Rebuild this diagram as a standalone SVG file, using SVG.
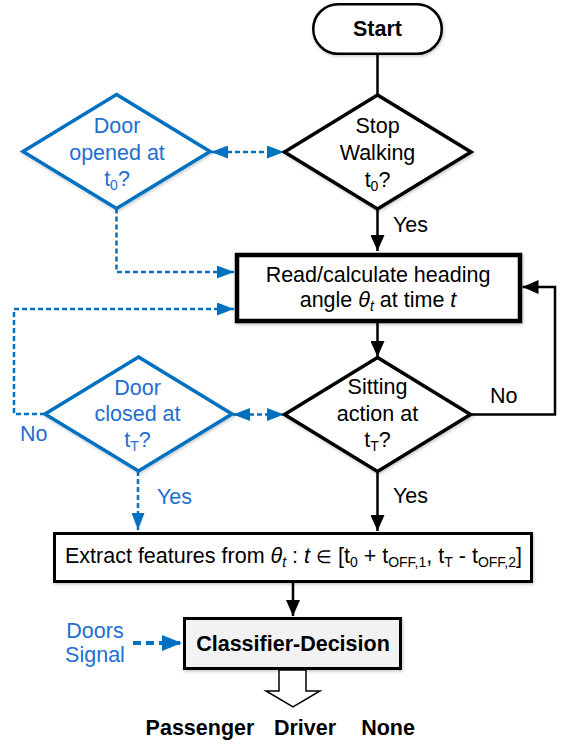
<svg xmlns="http://www.w3.org/2000/svg" width="566" height="745" viewBox="0 0 566 745">
  <style>
    text { font-family: "Liberation Sans", Arial, sans-serif; font-size: 21.5px; fill: #000; }
    .b { font-weight: bold; }
    .m { text-anchor: middle; }
    .blue { fill: #1e6fd0; }
    .sub { font-size: 14px; }
    .it { font-style: italic; }
    .sym { font-size: 18px; }
    .node { fill: #fff; stroke: #000; filter: url(#shadow); }
    .bnode { fill: #fff; stroke: #0070c0; stroke-width: 3.5; filter: url(#shadow); }
    .wire { fill: none; stroke: #000; stroke-width: 2.5; }
    .dash { fill: none; stroke: #0070c0; stroke-width: 2.5; stroke-dasharray: 5 3; }
  </style>
  <defs>
    <filter id="shadow" x="-10%" y="-10%" width="120%" height="125%">
      <feDropShadow dx="1" dy="1.5" stdDeviation="1.5" flood-color="#000" flood-opacity="0.22"/>
    </filter>
    <marker id="ah" markerUnits="userSpaceOnUse" markerWidth="16" markerHeight="14" refX="16" refY="7" orient="auto-start-reverse">
      <path d="M0,0 L16,7 L0,14 z" fill="#000"/>
    </marker>
    <marker id="bh" markerUnits="userSpaceOnUse" markerWidth="17" markerHeight="13" refX="17" refY="6.5" orient="auto-start-reverse">
      <path d="M0,0 L17,6.5 L0,13 z" fill="#0070c0"/>
    </marker>
    <marker id="bh2" markerUnits="userSpaceOnUse" markerWidth="20" markerHeight="16" refX="20" refY="8" orient="auto">
      <path d="M0,0 L20,8 L0,16 z" fill="#0070c0"/>
    </marker>
  </defs>

  <!-- connectors -->
  <g id="connectors">
    <line class="wire" x1="377.5" y1="55" x2="377.5" y2="95"/>
    <line class="wire" x1="377.5" y1="209" x2="377.5" y2="251" marker-end="url(#ah)"/>
    <line class="wire" x1="377.5" y1="323" x2="377.5" y2="357" marker-end="url(#ah)"/>
    <polyline class="wire" points="470.5,414.5 555,414.5 555,287 522.5,287" marker-end="url(#ah)"/>
    <line class="wire" x1="377.5" y1="471.5" x2="377.5" y2="531" marker-end="url(#ah)"/>
    <line class="wire" x1="293" y1="583" x2="293" y2="616" marker-end="url(#ah)"/>

    <line class="dash" x1="211" y1="152" x2="284" y2="152" marker-start="url(#bh)" marker-end="url(#bh)"/>
    <line class="dash" x1="233" y1="414.5" x2="284" y2="414.5" marker-start="url(#bh)" marker-end="url(#bh)"/>
    <polyline class="dash" points="116.5,208.5 116.5,272 234,272" marker-end="url(#bh)"/>
    <polyline class="dash" points="45,414 14,414 14,309 234,309" marker-end="url(#bh)"/>
    <line class="dash" x1="138" y1="471" x2="138" y2="530" marker-end="url(#bh)"/>
    <line fill="none" stroke="#0070c0" stroke-width="4" stroke-dasharray="8 5" x1="133" y1="643" x2="182" y2="643" marker-end="url(#bh2)"/>

    <text x="393" y="232">Yes</text>
    <text x="490" y="403">No</text>
    <text x="393" y="503">Yes</text>
    <text class="blue" x="20" y="441">No</text>
    <text class="blue" x="157" y="504">Yes</text>
  </g>

  <g id="start">
    <rect class="node" x="313.25" y="4.25" width="128.5" height="49.5" rx="24.75" stroke-width="2.5"/>
    <text class="b m" x="377.5" y="36">Start</text>
  </g>

  <g id="stop-walking">
    <polygon class="node" stroke-width="3.5" points="377.5,95 471,152 377.5,209 284.5,152"/>
    <text class="m" x="377.5" y="133">Stop</text>
    <text class="m" x="377.5" y="160">Walking</text>
    <text class="m" x="377.5" y="187">t<tspan class="sub" dy="4">0</tspan><tspan dy="-4">?</tspan></text>
  </g>

  <g id="door-opened">
    <polygon class="bnode" points="116.5,94.5 210,151.5 116.5,208.5 23,151.5"/>
    <text class="m blue" x="117" y="133">Door</text>
    <text class="m blue" x="117" y="159.5">opened at</text>
    <text class="m blue" x="117" y="186">t<tspan class="sub" dy="4">0</tspan><tspan dy="-4">?</tspan></text>
  </g>

  <g id="read-heading">
    <rect class="node" x="237" y="255" width="283" height="66" stroke-width="4.5"/>
    <text class="m" x="378" y="282">Read/calculate heading</text>
    <text class="m" x="378" y="307">angle <tspan class="it">θ</tspan><tspan class="it sub" dy="4">t</tspan><tspan dy="-4"> at time </tspan><tspan class="it">t</tspan></text>
  </g>

  <g id="sitting-action">
    <polygon class="node" stroke-width="3.5" points="377.5,357.5 470.5,414.5 377.5,471.5 284.5,414.5"/>
    <text class="m" x="377.5" y="394">Sitting</text>
    <text class="m" x="377.5" y="421">action at</text>
    <text class="m" x="377.5" y="447">t<tspan class="sub" dy="4">T</tspan><tspan dy="-4">?</tspan></text>
  </g>

  <g id="door-closed">
    <polygon class="bnode" points="138.5,357 232,414 138.5,471 45,414"/>
    <text class="m blue" x="137.5" y="395">Door</text>
    <text class="m blue" x="137.5" y="421">closed at</text>
    <text class="m blue" x="137.5" y="447">t<tspan class="sub" dy="4">T</tspan><tspan dy="-4">?</tspan></text>
  </g>

  <g id="extract-features">
    <rect class="node" x="54.5" y="533.5" width="477" height="48" stroke-width="3"/>
    <text class="m" x="293.5" y="563">Extract features from <tspan class="it">θ</tspan><tspan class="it sub" dy="4">t</tspan><tspan dy="-4"> : </tspan><tspan class="it">t</tspan> <tspan class="sym">∈</tspan> [t<tspan class="sub" dy="4">0</tspan><tspan dy="-4"> + t</tspan><tspan class="sub" dy="4">OFF,1</tspan><tspan dy="-4">, t</tspan><tspan class="sub" dy="4">T</tspan><tspan dy="-4"> - t</tspan><tspan class="sub" dy="4">OFF,2</tspan><tspan dy="-4">]</tspan></text>
  </g>

  <g id="doors-signal">
    <text class="m blue" x="95" y="638">Doors</text>
    <text class="m blue" x="95" y="662">Signal</text>
  </g>

  <g id="classifier">
    <rect class="node" x="184.5" y="618.5" width="216" height="50" stroke-width="3" style="fill:#f2f2f2"/>
    <text class="b m" x="293" y="651">Classifier-Decision</text>
  </g>

  <g id="outputs">
    <polygon points="279,670 306,670 306,691 320,691 293,707 266,691 279,691" fill="#fff" stroke="#000" stroke-width="1.5"/>
    <text class="b m" x="200" y="735">Passenger</text>
    <text class="b m" x="305" y="735">Driver</text>
    <text class="b m" x="388" y="735">None</text>
  </g>
</svg>
